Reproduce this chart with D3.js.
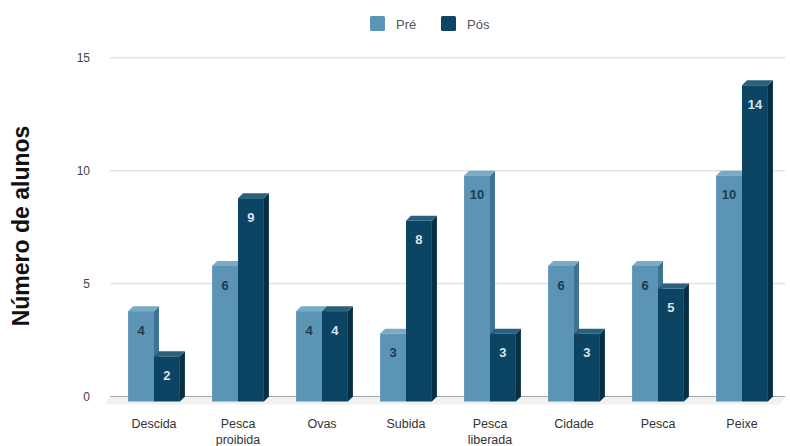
<!DOCTYPE html>
<html>
<head>
<meta charset="utf-8">
<script src="https://cdn.jsdelivr.net/npm/d3@7"></script>
<style>
    body { margin: 0; background: #fff; }
    text { font-family: "Liberation Sans", Arial, sans-serif; }
</style>
</head>
<body>
<div id="chart"></div>
<script>
// dados
var categories = ["Descida", "Pesca\nproibida", "Ovas", "Subida", "Pesca\nliberada", "Cidade", "Pesca", "Peixe"];
var series = ["Pré", "Pós"];
var preValues = [4, 6, 4, 3, 10, 6, 6, 10];
var posValues = [2, 9, 4, 8, 3, 3, 5, 14];
var yTicks = [0, 5, 10, 15];

var width = 790;
var height = 446;
var depth = 5;

var colors = {
    "Pré": { front: "#5b94b4", top: "#79aac6", side: "#3f7393", label: "#1e3b4f" },
    "Pós": { front: "#0b4563", top: "#2a607c", side: "#052f45", label: "#d7e6ee" }
};

var data = categories.map(function(c, i) {
    return { cat: c, values: [
        { key: "Pré", value: preValues[i] },
        { key: "Pós", value: posValues[i] }
    ] };
});

var svg = d3.select("#chart").append("svg")
    .attr("width", width)
    .attr("height", height);

var yscale = d3.scaleLinear()
    .domain([0, 15])
    .range([396.5, 57.7]);

var xscale = d3.scaleBand()
    .domain(categories)
    .range([112, 784]);

var x1 = d3.scaleBand()
    .domain(series)
    .range([0, xscale.bandwidth()])
    .paddingOuter(0.62);

// grid
svg.append("g")
    .selectAll("line")
    .data(yTicks.filter(function(t) { return t > 0; }))
    .enter()
    .append("line")
    .attr("x1", 110)
    .attr("x2", 785)
    .attr("y1", d => yscale(d))
    .attr("y2", d => yscale(d))
    .attr("stroke", "#e3e3e3")
    .attr("stroke-width", 1.5);

// chão
var y0 = yscale(0);
svg.append("polygon")
    .attr("points", [[110, y0], [785, y0], [785 - depth, y0 + depth + 3], [110 - depth, y0 + depth + 3]].join(" "))
    .attr("fill", "#f1f1f1");
svg.append("line")
    .attr("x1", 110).attr("x2", 785)
    .attr("y1", y0).attr("y2", y0)
    .attr("stroke", "#a8a8a8")
    .attr("stroke-width", 1.2);

// eixo y
svg.append("g")
    .selectAll("text")
    .data(yTicks)
    .enter()
    .append("text")
    .attr("x", 90)
    .attr("y", d => yscale(d))
    .attr("dy", "0.35em")
    .attr("text-anchor", "end")
    .attr("font-size", 12)
    .attr("fill", "#444")
    .text(d => d);

svg.append("text")
    .attr("transform", "translate(29,226) rotate(-90)")
    .attr("text-anchor", "middle")
    .attr("font-size", 23)
    .attr("font-weight", "bold")
    .attr("fill", "#111")
    .text("Número de alunos");

// barras
var groups = svg.selectAll(".grupo")
    .data(data)
    .enter()
    .append("g")
    .attr("class", "grupo")
    .attr("transform", d => "translate(" + xscale(d.cat) + ",0)");

var bars = groups.selectAll(".barra")
    .data(d => d.values)
    .enter()
    .append("g")
    .attr("class", "barra");

function barGeom(d) {
    var x = x1(d.key);
    var w = x1.bandwidth();
    var yt = yscale(d.value);
    return { x: x, w: w, yt: yt };
}

bars.append("polygon")
    .attr("points", function(d) {
        var g = barGeom(d);
        return [[g.x + g.w, g.yt + depth], [g.x + g.w + depth, g.yt], [g.x + g.w + depth, y0], [g.x + g.w, y0 + depth]].join(" ");
    })
    .attr("fill", d => colors[d.key].side);

bars.append("polygon")
    .attr("points", function(d) {
        var g = barGeom(d);
        return [[g.x, g.yt + depth], [g.x + depth, g.yt], [g.x + g.w + depth, g.yt], [g.x + g.w, g.yt + depth]].join(" ");
    })
    .attr("fill", d => colors[d.key].top);

bars.append("rect")
    .attr("x", d => barGeom(d).x)
    .attr("y", d => barGeom(d).yt + depth)
    .attr("width", x1.bandwidth())
    .attr("height", d => y0 - barGeom(d).yt)
    .attr("fill", d => colors[d.key].front);

bars.append("text")
    .attr("x", d => barGeom(d).x + x1.bandwidth() / 2)
    .attr("y", d => barGeom(d).yt + depth + 19)
    .attr("dy", "0.35em")
    .attr("text-anchor", "middle")
    .attr("font-size", 13)
    .attr("font-weight", "bold")
    .attr("fill", d => colors[d.key].label)
    .text(d => d.value);

// rótulos x
var xlab = svg.append("g")
    .selectAll("text")
    .data(categories)
    .enter()
    .append("text")
    .attr("x", d => xscale(d) + xscale.bandwidth() / 2)
    .attr("y", 424)
    .attr("text-anchor", "middle")
    .attr("font-size", 12.5)
    .attr("fill", "#333");

xlab.selectAll("tspan")
    .data(d => d.split("\n"))
    .enter()
    .append("tspan")
    .attr("x", function() { return d3.select(this.parentNode).attr("x"); })
    .attr("dy", (d, i) => i === 0 ? "0.35em" : 16)
    .text(d => d);

// legenda
var legend = svg.append("g")
    .selectAll("g")
    .data(series)
    .enter()
    .append("g")
    .attr("transform", (d, i) => "translate(" + (370 + i * 71) + ",16)");

legend.append("rect")
    .attr("width", 15)
    .attr("height", 15)
    .attr("rx", 1.5)
    .attr("fill", d => colors[d].front);

legend.append("text")
    .attr("x", 26)
    .attr("y", 8)
    .attr("dy", "0.35em")
    .attr("font-size", 13)
    .attr("fill", "#555")
    .text(d => d);
</script>
</body>
</html>
